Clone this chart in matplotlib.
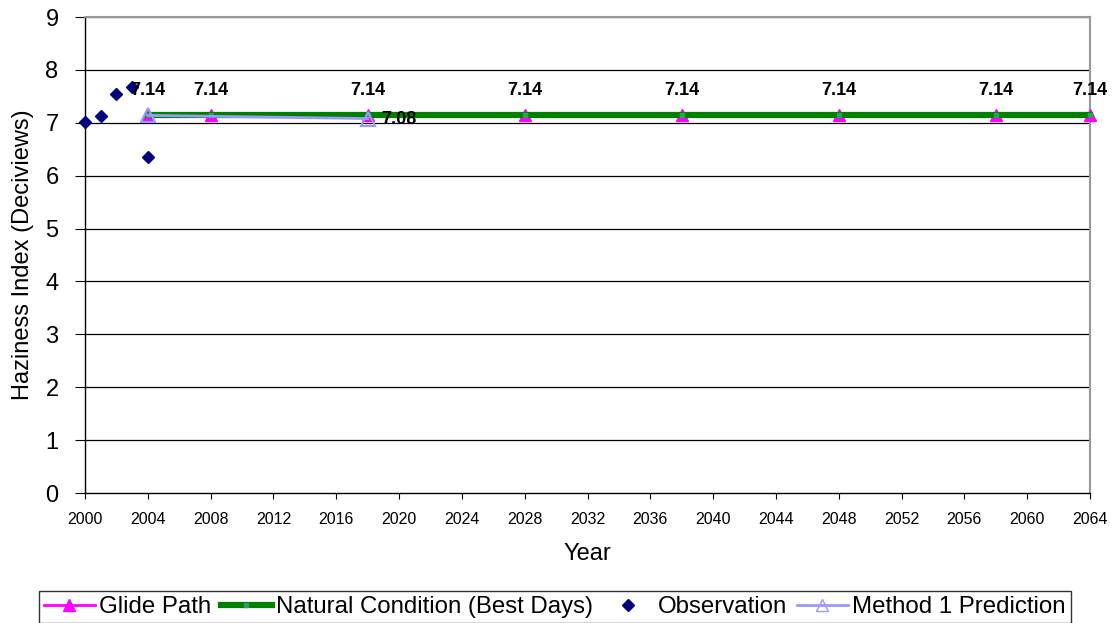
import matplotlib
matplotlib.use("Agg")
import matplotlib.pyplot as plt
from matplotlib.lines import Line2D

plt.rcParams['font.family'] = ['Liberation Sans', 'DejaVu Sans']

# Data
glide_years = [2004, 2008, 2018, 2028, 2038, 2048, 2058, 2064]
glide_values = [7.14, 7.14, 7.14, 7.14, 7.14, 7.14, 7.14, 7.14]
natural_years = [2004, 2008, 2018, 2028, 2038, 2048, 2058, 2064]
natural_values = [7.14, 7.14, 7.14, 7.14, 7.14, 7.14, 7.14, 7.14]
obs_years = [2000, 2001, 2002, 2003, 2004]
obs_values = [7.01, 7.12, 7.54, 7.68, 6.36]
method_years = [2004, 2018]
method_values = [7.14, 7.08]
x_ticks = list(range(2000, 2065, 4))
y_ticks = list(range(0, 10))

fig = plt.figure(figsize=(11.12, 6.23), dpi=100)
ax = fig.add_axes([85/1112, 1 - 493/623, (1090-85)/1112, (493-17)/623])

ax.set_xlim(2000, 2064)
ax.set_ylim(0, 9)
ax.set_xticks(x_ticks)
ax.set_yticks(y_ticks)
ax.tick_params(axis='x', labelsize=11.5, direction='out', length=4, pad=10)
ax.tick_params(axis='y', labelsize=17, direction='out', length=7, pad=12)
for y in y_ticks[1:]:
    ax.axhline(y, color='black', linewidth=0.9, zorder=1)

for s in ['left', 'bottom']:
    ax.spines[s].set_color('black')
    ax.spines[s].set_linewidth(1.0)
for s in ['top', 'right']:
    ax.spines[s].set_color('#999999')
    ax.spines[s].set_linewidth(1.5)

ax.plot(glide_years, glide_values, color='#FF00FF', linewidth=2, marker='^',
        markersize=9, markerfacecolor='#FF00FF', markeredgecolor='#FF00FF',
        zorder=3, clip_on=False)
ax.plot(natural_years, natural_values, color='#008000', linewidth=4.5,
        marker='s', markersize=3, markerfacecolor='#339966',
        markeredgecolor='#339966', zorder=4, clip_on=False)
ax.plot(method_years, method_values, color='#9999FF', linewidth=2, marker='^',
        markersize=10, markerfacecolor='none', markeredgecolor='#9999FF',
        markeredgewidth=1.5, zorder=5)
ax.plot(obs_years, obs_values, linestyle='none', marker='D', markersize=6.5,
        color='#000080', zorder=6, clip_on=False)

for x, v in zip(glide_years, glide_values):
    ax.annotate(f"{v:.2f}", (x, v), xytext=(0, 18), textcoords='offset points',
                ha='center', va='center', fontsize=13, fontweight='bold',
                zorder=7, annotation_clip=False)
ax.annotate(f"{method_values[-1]:.2f}", (method_years[-1], method_values[-1]),
            xytext=(10, -1), textcoords='offset points', ha='left', va='center',
            fontsize=13, fontweight='bold', zorder=7)

ax.set_xlabel("Year", fontsize=17, labelpad=11)
ax.set_ylabel("Haziness Index (Deciviews)", fontsize=17, labelpad=8)

handles = [
    Line2D([], [], color='#FF00FF', linewidth=2, marker='^', markersize=8,
           markerfacecolor='#FF00FF', markeredgecolor='#FF00FF'),
    Line2D([], [], color='#008000', linewidth=4.5, marker='s', markersize=3,
           markerfacecolor='#339966', markeredgecolor='#339966'),
    Line2D([], [], linestyle='none', marker='D', markersize=6, color='#000080'),
    Line2D([], [], color='#9999FF', linewidth=2, marker='^', markersize=9,
           markerfacecolor='none', markeredgecolor='#9999FF'),
]
labels = ["Glide Path", "Natural Condition (Best Days)", "Observation",
          "Method 1 Prediction"]
leg = fig.legend(handles, labels, loc='center', ncol=4,
                 bbox_to_anchor=(555/1112, 1 - 607/623), fontsize=17.3,
                 frameon=True, fancybox=False, edgecolor='black',
                 handlelength=2.1, handletextpad=0.2, columnspacing=0.4,
                 borderpad=0.2, borderaxespad=0)
leg.get_frame().set_linewidth(1.0)

fig.savefig("out.png", dpi=100)
